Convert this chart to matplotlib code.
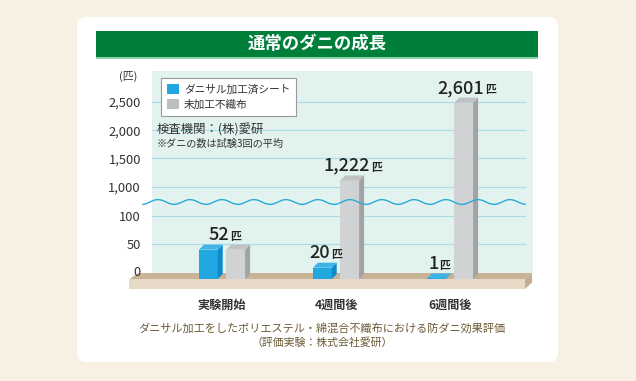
import numpy as np
import matplotlib
matplotlib.use('Agg')
import matplotlib.pyplot as plt
from matplotlib.patches import Polygon, Rectangle, FancyBboxPatch, Patch
from matplotlib.transforms import IdentityTransform, Affine2D

plt.rcParams['font.family'] = ['Noto Sans CJK JP', 'DejaVu Sans']

# --- data ---
periods = ['実験開始', '4週間後', '6週間後']
series_names = ['ダニサル加工済シート', '未加工不織布']
treated = [52, 20, 1]
untreated = [52, 1222, 2601]
y_ticks = [0, 50, 100, 1000, 1500, 2000, 2500]
y_tick_labels = ['0', '50', '100', '1,000', '1,500', '2,000', '2,500']

BLUE = ('#22A8E1', '#0B8BCB', '#3DB3E6')   # front, side, top
GRAY = ('#D1D2D4', '#A2A3A5', '#C1C2C4')
TXT = '#333333'

W, H = 636, 381
fig = plt.figure(figsize=(W / 100, H / 100), dpi=100)
fig.patch.set_facecolor('#F8F0E3')
ident = IdentityTransform()


def px(x, y):
    # reference pixel (origin top-left) -> display coords
    return (x, H - y)


# white card + green title bar
fig.add_artist(FancyBboxPatch(px(77, 362), 558 - 77, 362 - 17,
                              boxstyle='round,pad=0,rounding_size=9',
                              transform=ident, fc='white', ec='none', zorder=-2))
fig.add_artist(Rectangle(px(96, 57), 442, 26, transform=ident,
                         fc='#007F3B', ec='none', zorder=-1))
fig.add_artist(Rectangle(px(96, 58.5), 442, 1.5, transform=ident,
                         fc='#8FD0A8', ec='none', zorder=-1))
fig.text(317 / W, 1 - 44 / H, '通常のダニの成長', color='white', fontsize=12.5,
         weight='bold', ha='center', va='center')

# --- axes with broken (piecewise) y scale ---
ax = fig.add_axes([152 / W, 1 - 272.7 / H, 381 / W, 201.7 / H])
ax.set_facecolor('#E2F2EF')
for s in ax.spines.values():
    s.set_visible(False)

U1000 = 3.05


def fwd(v):
    v = np.asarray(v, dtype=float)
    return np.where(v <= 100, v / 50,
                    np.where(v <= 1000, 2 + (v - 100) / 900 * (U1000 - 2),
                             U1000 + (v - 1000) / 500))


def inv(u):
    u = np.asarray(u, dtype=float)
    return np.where(u <= 2, u * 50,
                    np.where(u <= U1000, 100 + (u - 2) / (U1000 - 2) * 900,
                             1000 + (u - U1000) * 500))


ax.set_yscale('function', functions=(fwd, inv))
ax.set_ylim(0, 3050)
ax.set_xlim(-0.614, 2.728)

ax.set_yticks(y_ticks, y_tick_labels)
ax.tick_params(axis='y', length=0, pad=8, labelsize=9.3, labelcolor=TXT)
ax.set_xticks(range(len(periods)), periods)
ax.tick_params(axis='x', length=0, pad=19, labelsize=8.7, labelcolor=TXT)
for lbl in ax.get_xticklabels():
    lbl.set_fontweight('bold')
# lift the "0" label a touch so it sits on the floor's back edge
ax.get_yticklabels()[0].set_y(0)
for t in ax.yaxis.get_major_ticks()[:1]:
    t.label1.set_transform(t.label1.get_transform() + Affine2D().translate(0, 2))

for v in y_ticks[1:]:
    ax.axhline(v, xmax=(525 - 152) / 381, color='#A9DCE8', lw=0.8, zorder=1)

# floor
floor_top = [px(129, 279.5), px(525, 279.5), px(532, 273), px(138, 273)]
floor_front = [px(129, 279.5), px(525, 279.5), px(525, 289), px(129, 289)]
floor_side = [px(525, 279.5), px(532, 273), px(532, 282.5), px(525, 289)]
for pts, c in [(floor_top, '#C8B397'), (floor_front, '#E7DAC8'), (floor_side, '#C3AD90')]:
    ax.add_patch(Polygon(pts, closed=True, transform=ident, fc=c, ec='none',
                         clip_on=False, zorder=1.2))

# 3D bars
DEPTH = 5
DROP = 6.3
BAR_W = 0.165
OFFS = [-0.12, 0.12]
front_tr = ax.transData + Affine2D().translate(0, -DROP)


def draw_box(xc, v, colors):
    face, side, top = colors
    ax.bar(xc, v, BAR_W, color=face, lw=0, transform=front_tr, clip_on=False, zorder=3)
    (x0, y0), (x1, y1) = front_tr.transform([(xc - BAR_W / 2, 0), (xc + BAR_W / 2, v)])
    d = DEPTH
    ax.add_patch(Polygon([(x1, y0), (x1 + d, y0 + d), (x1 + d, y1 + d), (x1, y1)],
                         transform=ident, fc=side, ec='none', clip_on=False, zorder=3))
    ax.add_patch(Polygon([(x0, y1), (x1, y1), (x1 + d, y1 + d), (x0 + d, y1 + d)],
                         transform=ident, fc=top, ec='none', clip_on=False, zorder=3))
    return (x0 + x1) / 2 + d / 2, y1


renderer = fig.canvas.get_renderer()


def value_label(xd, yd, v):
    yd = yd + 9.5
    num = ax.text(xd, yd, f'{v:,}', transform=ident, fontsize=13, weight='medium',
                  ha='right', va='baseline', color='#222222', zorder=6)
    unit = ax.text(xd, yd, '匹', transform=ident, fontsize=7.8, weight='bold',
                   ha='left', va='baseline', color='#222222', zorder=6)
    wn = num.get_window_extent(renderer).width
    wu = unit.get_window_extent(renderer).width
    shift = (wn - wu) / 2
    num.set_x(xd + shift)
    unit.set_x(xd + shift + 1)


for i in range(len(periods)):
    bt = draw_box(i + OFFS[0], treated[i], BLUE)
    bu = draw_box(i + OFFS[1], untreated[i], GRAY)
    if treated[i] == untreated[i]:
        value_label((bt[0] + bu[0]) / 2, max(bt[1], bu[1]), treated[i])
    else:
        value_label(bt[0], bt[1], treated[i])
        value_label(bu[0], bu[1], untreated[i])

# wavy break line
wx = np.linspace(143, 525, 400)
wy = 202 - 2.4 * np.cos(2 * np.pi * (wx - 158) / 32)
ax.plot(wx, H - wy, transform=ident, color='#29A9E0', lw=1, clip_on=False, zorder=5)

# legend and notes
handles = [Patch(fc=BLUE[0], ec='none'), Patch(fc='#BDBEC0', ec='none')]
leg = ax.legend(handles, series_names, loc='upper left',
                bbox_to_anchor=((161 - 152) / 381, (272.7 - 78.3) / 201.7),
                frameon=True, fancybox=False, edgecolor='#999999', framealpha=1,
                fontsize=7.7, handlelength=1.1, handleheight=1.0, handletextpad=0.5,
                labelspacing=0.45, borderpad=0.55, borderaxespad=0)
leg.get_frame().set_linewidth(0.8)
for t in leg.get_texts():
    t.set_color(TXT)

ax.text(157, H - 130, '検査機関：(株)愛研', transform=ident, fontsize=8.9,
        color=TXT, ha='left', va='center', zorder=6)
ax.text(157, H - 144, '※ダニの数は試験3回の平均', transform=ident, fontsize=7.3,
        color=TXT, ha='left', va='center', zorder=6)
fig.text(128 / W, 1 - 76 / H, '(匹)', fontsize=7.8, color=TXT, ha='center', va='center')

fig.text(322 / W, 1 - 328 / H,
         'ダニサル加工をしたポリエステル・綿混合不織布における防ダニ効果評価',
         fontsize=8, color='#6B5B35', ha='center', va='center')
fig.text(322 / W, 1 - 343 / H, '（評価実験：株式会社愛研）',
         fontsize=7.8, color='#6B5B35', ha='center', va='center')

fig.savefig('out.png', dpi=100, facecolor=fig.get_facecolor())
